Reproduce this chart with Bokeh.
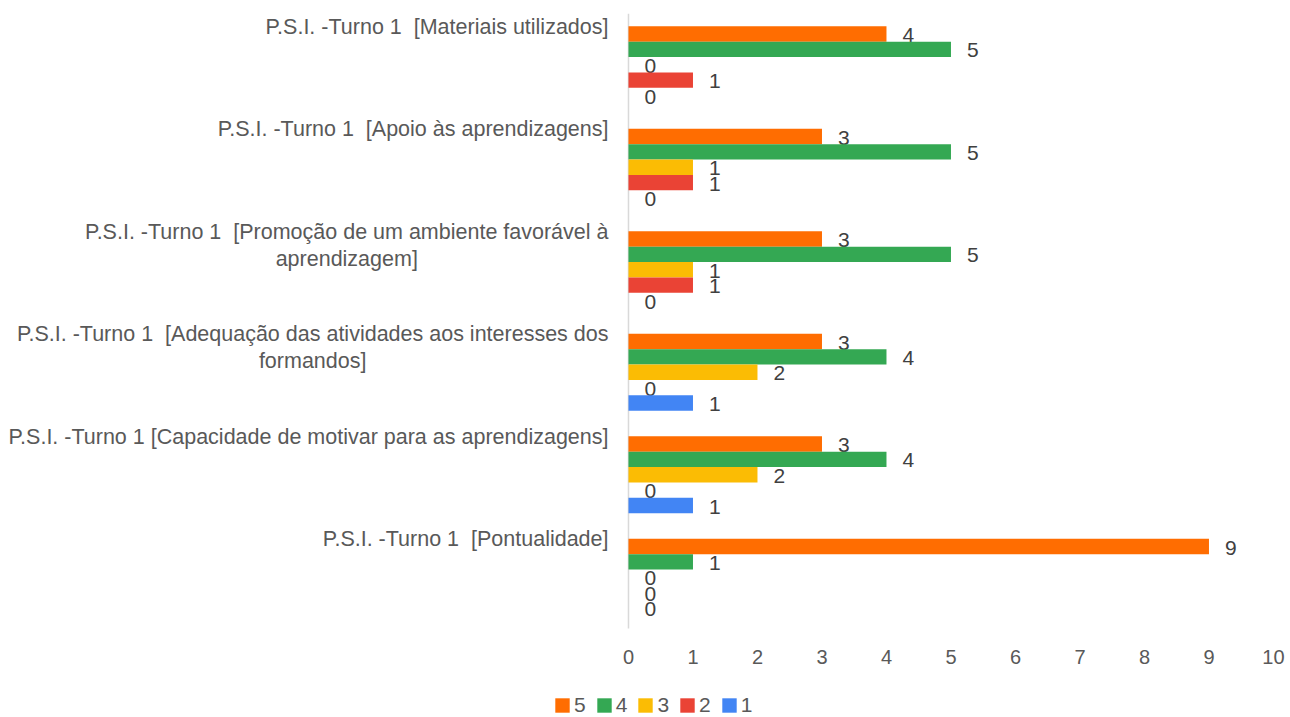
from bokeh.plotting import figure
from bokeh.models import Range1d, FixedTicker, Legend, LegendItem
from bokeh.core.properties import value
from bokeh.embed import file_html
from bokeh.resources import INLINE

categories = [
    "P.S.I. -Turno 1\u00a0 [Materiais utilizados]",
    "P.S.I. -Turno 1\u00a0 [Apoio às aprendizagens]",
    "P.S.I. -Turno 1\u00a0 [Promoção de um ambiente favorável à\naprendizagem]",
    "P.S.I. -Turno 1\u00a0 [Adequação das atividades aos interesses dos\nformandos]",
    "P.S.I. -Turno 1 [Capacidade de motivar para as aprendizagens]",
    "P.S.I. -Turno 1\u00a0 [Pontualidade]",
]
series_names = ["5", "4", "3", "2", "1"]
s5 = [4, 3, 3, 3, 3, 9]
s4 = [5, 5, 5, 4, 4, 1]
s3 = [0, 1, 1, 2, 2, 0]
s2 = [1, 1, 1, 0, 0, 0]
s1 = [0, 0, 0, 1, 1, 0]
series_values = [s5, s4, s3, s2, s1]
colors = ["#FF6D01", "#34A853", "#FBBC04", "#EA4335", "#4285F4"]
x_ticks = list(range(0, 11))

FONT = "Liberation Sans"
n = len(categories)
bar_h = 0.15
band_px = 102.5
frame_h = 704

p = figure(frame_width=1290, frame_height=frame_h,
           x_range=Range1d(-9.7364, 10.264),
           y_range=Range1d(n - 0.5 - frame_h / band_px, n - 0.5),
           output_backend="svg", toolbar_location=None, y_axis_location=None,
           min_border_left=0, min_border_right=0, min_border_top=13, min_border_bottom=0)
p.xgrid.visible = False
p.ygrid.visible = False
p.outline_line_color = None

# category (value) axis line at x = 0
p.segment(x0=[0], y0=[-0.5], x1=[0], y1=[n - 0.5], line_color="#D9D9D9", line_width=1.5)

items = []
for j, (name, vals) in enumerate(zip(series_names, series_values)):
    ys = [(n - 1 - i) + 0.3 - j * bar_h for i in range(n)]
    r = p.hbar(y=ys, left=0, right=vals, height=bar_h, fill_color=colors[j], line_color=None)
    p.text(x=vals, y=ys, text=[str(v) for v in vals], x_offset=16, y_offset=1,
           text_align="left", text_baseline="middle", text_font=value(FONT),
           text_font_size="21px", text_color="#404040")
    items.append(LegendItem(label=name, renderers=[r]))

cat_y = [(n - 1 - i) + 0.488 for i in range(n)]
p.text(x=[-0.31] * n, y=cat_y, text=categories, anchor="top_right", text_align="center",
       text_baseline="top", text_line_height=1.12, text_font=value(FONT),
       text_font_size="21.5px", text_color="#595959")

ax = p.xaxis[0]
ax.fixed_location = -0.5
ax.ticker = FixedTicker(ticks=x_ticks)
ax.axis_line_color = None
ax.major_tick_line_color = None
ax.minor_tick_line_color = None
ax.major_label_text_font = FONT
ax.major_label_text_font_size = "20px"
ax.major_label_text_color = "#595959"
ax.major_label_standoff = 15

legend = Legend(items=items, orientation="horizontal", location=(553, 0),
                glyph_width=18, glyph_height=18, label_width=0, label_height=20,
                label_text_font=FONT,
                label_text_font_size="21px", label_text_color="#595959",
                spacing=9, label_standoff=3, border_line_color=None, padding=0,
                margin=0, background_fill_alpha=0)
p.add_layout(legend)

open("out.html", "w").write(file_html(p, INLINE))
